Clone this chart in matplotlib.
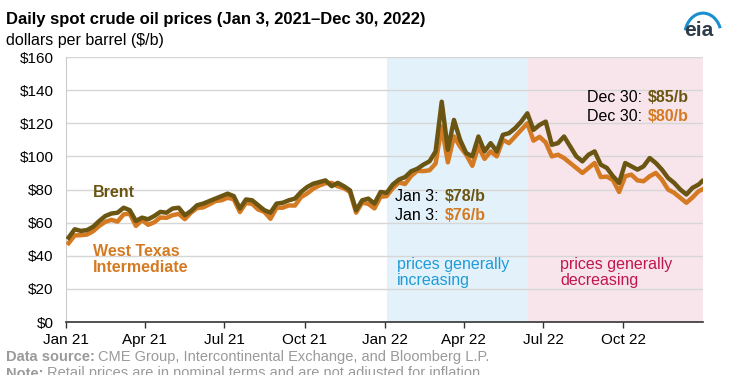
import numpy as np
import pandas as pd
import matplotlib
matplotlib.use("Agg")
import matplotlib.pyplot as plt
import matplotlib.dates as mdates
from matplotlib.patches import Arc

BRENT_C = "#6b5512"
WTI_C   = "#d47a22"
BLUE_BG = "#e3f2fa"
PINK_BG = "#f8e5ec"
BLUE_TX = "#1f9bd7"
RED_TX  = "#c0164e"
GREY_TX = "#9a9a9a"

plt.rcParams["font.family"] = ["Liberation Sans", "DejaVu Sans"]

# ── Data: weekly readings (Mondays) plus the last trading day
dates = list(pd.date_range("2021-01-04", "2022-12-26", freq="W-MON")) + [pd.Timestamp("2022-12-30")]

brent_2021 = [51, 56, 55, 55.5, 57.5, 61, 64, 65.5, 66, 69, 67.5, 61, 63,
              62, 64, 66.5, 66, 68.5, 69, 64.5, 67, 70.5, 71.5, 73, 74.5, 76,
              77.5, 76, 68.5, 74, 73.5, 70.5, 67.5, 66, 71.5, 72, 73.5, 74.5, 78.5,
              81.5, 83.5, 84.5, 85.5, 82, 84, 82, 79.5, 67.5, 73.5, 74.5, 71.5, 78.5]
brent_2022 = [78, 83, 86, 87.5, 91, 92.5, 95, 97, 103, 133, 104, 122, 110,
              102, 100, 112, 103, 108, 103, 113, 114, 117, 121, 126, 116, 119,
              121, 107, 108, 112, 106, 100, 97, 101, 103, 95, 93, 88, 84,
              96, 94, 92, 94, 99, 96, 92, 87, 84, 80, 77, 81, 83, 85]

wti_2021 = [47.6, 52.3, 52.4, 52.8, 54.8, 58, 60.5, 61.7, 60.6, 65, 65.4, 58, 61.5,
            58.7, 60.2, 63.1, 62.9, 64.5, 65.3, 62.1, 66, 68.8, 69.2, 71, 73, 73.5,
            75, 74.1, 66.4, 71.9, 71.3, 67.9, 66.5, 62.3, 69, 69, 70.4, 70.3, 75.4,
            77.6, 80.5, 82.4, 83.8, 84, 81.9, 80.8, 78.5, 66, 72.1, 71.3, 68.6, 75.6]
wti_2022 = [76, 80.8, 84.3, 83.3, 88.2, 91.3, 91.1, 91.6, 95.7, 118, 96.4, 112.1, 105.9,
            101, 94.3, 106, 98.5, 103, 100, 110, 108, 112, 116, 120, 109.5, 111.8,
            108.4, 100, 101, 99, 96, 93, 90, 93, 96, 87.5, 87.8, 85.7, 78.5,
            88, 89, 85.5, 85, 88, 90, 85.9, 80, 78, 75, 72, 75.2, 79, 80]

brent = brent_2021 + brent_2022
wti = wti_2021 + wti_2022

rising_start, rising_end = pd.Timestamp("2022-01-03"), pd.Timestamp("2022-06-14")
falling_end = pd.Timestamp("2022-12-31")

y_ticks = [0, 20, 40, 60, 80, 100, 120, 140, 160]

# ── Figure
fig = plt.figure(figsize=(7.3, 3.75), dpi=100)
ax = fig.add_axes([0.0904, 0.1413, 0.8726, 0.7067])

ax.axvspan(rising_start, rising_end, color=BLUE_BG, lw=0, zorder=0)
ax.axvspan(rising_end, falling_end, color=PINK_BG, lw=0, zorder=0)

for y in y_ticks[1:]:
    ax.axhline(y, color="#d6d6d6", lw=1, zorder=1)

ax.plot(dates, wti, color=WTI_C, lw=3.2, zorder=3, solid_joinstyle="round")
ax.plot(dates, brent, color=BRENT_C, lw=3.2, zorder=4, solid_joinstyle="round")

ax.set_xlim(pd.Timestamp("2021-01-01"), falling_end)
ax.set_ylim(0, 160)
ax.set_yticks(y_ticks)
ax.set_yticklabels([f"${v}" for v in y_ticks])
ax.tick_params(axis="y", length=0, pad=9, labelsize=11)

qtr = pd.date_range("2021-01-01", "2022-10-01", freq="QS")
ax.set_xticks(qtr)
ax.xaxis.set_major_formatter(mdates.DateFormatter("%b %y"))
ax.tick_params(axis="x", length=4, width=1, color="#333333", pad=4, labelsize=11)

for s in ["top", "right"]:
    ax.spines[s].set_visible(False)
ax.spines["left"].set_color("#cccccc")
ax.spines["bottom"].set_color("#333333")
ax.spines["bottom"].set_linewidth(1.2)

# ── Labels inside the plot
ax.text(0.042, 0.49, "Brent", transform=ax.transAxes, color=BRENT_C,
        fontsize=11.5, fontweight="bold", va="center")
ax.text(0.042, 0.236, "West Texas\nIntermediate", transform=ax.transAxes,
        color=WTI_C, fontsize=11.5, fontweight="bold", va="center", linespacing=1.15)

ax.text(0.516, 0.475, "Jan 3:", transform=ax.transAxes, fontsize=11.5, va="center")
ax.text(0.594, 0.475, "$78/b", transform=ax.transAxes, fontsize=11.5, va="center",
        color=BRENT_C, fontweight="bold")
ax.text(0.516, 0.402, "Jan 3:", transform=ax.transAxes, fontsize=11.5, va="center")
ax.text(0.594, 0.402, "$76/b", transform=ax.transAxes, fontsize=11.5, va="center",
        color=WTI_C, fontweight="bold")

ax.text(0.818, 0.849, "Dec 30:", transform=ax.transAxes, fontsize=11.5, va="center")
ax.text(0.914, 0.849, "$85/b", transform=ax.transAxes, fontsize=11.5, va="center",
        color=BRENT_C, fontweight="bold")
ax.text(0.818, 0.774, "Dec 30:", transform=ax.transAxes, fontsize=11.5, va="center")
ax.text(0.914, 0.774, "$80/b", transform=ax.transAxes, fontsize=11.5, va="center",
        color=WTI_C, fontweight="bold")

ax.text(0.52, 0.187, "prices generally\nincreasing", transform=ax.transAxes,
        color=BLUE_TX, fontsize=11.5, va="center", linespacing=1.15)
ax.text(0.776, 0.187, "prices generally\ndecreasing", transform=ax.transAxes,
        color=RED_TX, fontsize=11.5, va="center", linespacing=1.15)

# ── Titles and footer
fig.text(0.008, 0.947, "Daily spot crude oil prices (Jan 3, 2021\u2013Dec 30, 2022)",
         fontsize=12, fontweight="bold", va="center")
fig.text(0.008, 0.893, "dollars per barrel ($/b)", fontsize=11.5, va="center")


def footer_line(y, head, body):
    # bold grey lead-in followed by regular grey text
    t = fig.text(0.008, y, head, fontsize=10.5, color=GREY_TX,
                 fontweight="bold", va="center")
    r = fig.canvas.get_renderer()
    bb = t.get_window_extent(renderer=r).transformed(fig.transFigure.inverted())
    fig.text(bb.x1 + 0.005, y, body, fontsize=10.5, color=GREY_TX, va="center")


footer_line(0.048, "Data source:", "CME Group, Intercontinental Exchange, and Bloomberg L.P.")
footer_line(0.004, "Note:", "Retail prices are in nominal terms and are not adjusted for inflation.")

# eia logo
fig.text(0.957, 0.918, "eia", fontsize=15, color="#2d3c4a", ha="center",
         va="center", fontweight="bold")
logo = Arc((0.963, 0.905), 0.05, 0.12, theta1=40, theta2=150,
           transform=fig.transFigure, color="#1a8fd0", lw=2.2)
fig.patches.append(logo)

fig.savefig("out.png", dpi=100)
